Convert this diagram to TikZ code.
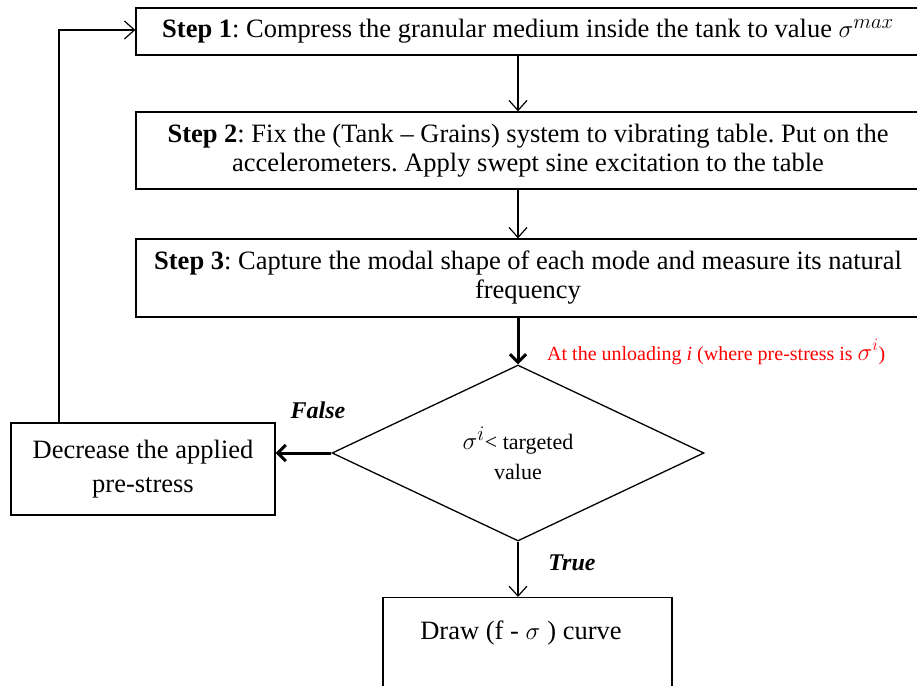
\documentclass[tikz,border=0pt]{standalone}
\usepackage{fontspec}
\setmainfont{Liberation Serif}
\usetikzlibrary{shapes.geometric,arrows.meta,calc}
\frenchspacing
\newcommand{\bigsig}[2]{{\fontsize{#1}{#1}\selectfont$\sigma^{#2}$}}
\begin{document}
\begin{tikzpicture}[x=1pt,y=-1pt,
  box/.style={draw,line width=1.3pt,inner sep=0pt,align=center},
  thinarr/.style={line width=1.2pt,-{Straight Barb[length=10pt,width=18pt,line width=1.2pt]}},
  thickarr/.style={line width=3pt,-{Straight Barb[length=8pt,width=16pt,line width=3pt]}},
  main/.style={font=\fontsize{26.5}{29}\selectfont},
  tag/.style={font=\fontsize{24}{24}\selectfont\bfseries\itshape}]
\useasboundingbox (0,0) rectangle (917,685);
\node[box,main,minimum width=784pt,minimum height=47pt] (s1) at (528,31.5)
  {\textbf{Step 1}: Compress the granular medium inside the tank to value \bigsig{32}{max}};
\node[box,main,minimum width=784pt,minimum height=77pt] (s2) at (528,150.5)
  {\textbf{Step 2}: Fix the (Tank – Grains) system to vibrating table. Put on the\\ accelerometers. Apply swept sine excitation to the table};
\node[box,main,minimum width=784pt,minimum height=78pt] (s3) at (528,278)
  {\textbf{Step 3}: Capture the modal shape of each mode and measure its natural\\ frequency};
\node[draw,diamond,line width=1.3pt,minimum width=372pt,minimum height=176pt,aspect=2.1,inner sep=0pt,align=center,font=\fontsize{22}{30}\selectfont] (dia) at (518,453)
  {\bigsig{29}{i}< targeted\\ value};
\node[box,font=\fontsize{26.5}{34}\selectfont,minimum width=264pt,minimum height=92pt] (dec) at (143,469)
  {Decrease the applied\\ pre-stress};
\node[box,minimum width=289pt,minimum height=110pt,anchor=north] (drw) at (527.5,597) {};
\node[main] (drwt) at (521,633) {Draw (f - \bigsig{29}{} ) curve};
\node[tag] (fl) at (318,410) {False};
\node[tag] (tr) at (572,563) {True};
\node[red,anchor=west,font=\fontsize{20}{20}\selectfont,inner sep=0pt] (rl) at (547,352)
  {At the unloading \textit{i} (where pre-stress is \bigsig{27}{i})};
\coordinate (lp) at (59,30);
\draw[thinarr] (s1.south -| dia.north) -- (s2.north -| dia.north);
\draw[thinarr] (s2.south -| dia.north) -- (s3.north -| dia.north);
\draw[thickarr] (s3.south -| dia.north) -- (dia.north);
\draw[thickarr] (dia.west) -- (dia.west -| dec.east);
\draw[thinarr] (dec.north -| lp) -- (lp) -- (lp -| s1.west);
\draw[thinarr] (dia.south) -- (dia.south |- drw.north);
\end{tikzpicture}
\end{document}
